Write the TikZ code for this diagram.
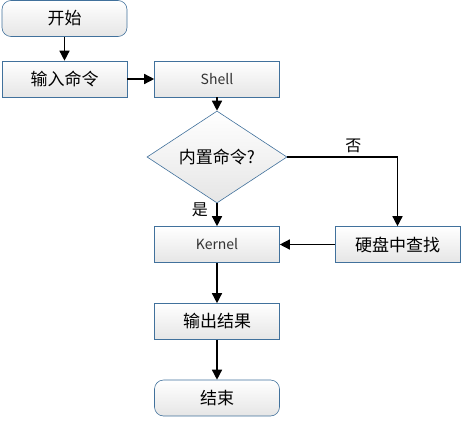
\documentclass[tikz,border=0pt]{standalone}
\usepackage{fontspec}
\setmainfont{Noto Sans CJK SC}
\usetikzlibrary{shapes.geometric, arrows.meta}
\definecolor{boxline}{HTML}{41719C}
\begin{document}
\begin{tikzpicture}[x=1pt, y=-1pt, thick,
    box/.style = {rectangle, draw = boxline, semithick, top color = white, bottom color = black!10,
                  minimum width = 125pt, minimum height = 36pt, inner sep = 0pt, font = \fontsize{17}{17}\selectfont},
    term/.style = {box, rounded corners = 9pt},
    cond/.style = {diamond, draw = boxline, semithick, top color = white, bottom color = black!10,
                   minimum width = 140pt, minimum height = 49pt, inner sep = 0pt, font = \fontsize{17}{17}\selectfont},
    latin/.style = {font = \fontsize{14}{14}\selectfont, text = black!80},
    answer/.style = {font = \fontsize{16}{16}\selectfont},
    flow/.style = {-{Triangle[length=10pt, width=10pt]}, line width = 1.4pt, black}]
    \useasboundingbox (0,0) rectangle (465,420);
    \node [term] (start) at (64.5,18.5) {开始};
    \node [box] (input) at (64.5,79) {输入命令};
    \node [box, latin] (shell) at (217,79) {Shell};
    \node [cond] (builtin) at (217,157) {内置命令?};
    \node [box, latin] (kernel) at (217,244.5) {Kernel};
    \node [box] (search) at (397.5,244.5) {硬盘中查找};
    \node [box] (output) at (217,321.5) {输出结果};
    \node [term] (stop) at (217,398) {结束};
    \draw [flow] (start) -- (input);
    \draw [flow] (input) -- (shell);
    \draw [flow] (shell) -- (builtin);
    \draw [flow] (builtin) -- node [left = 5pt, pos = 0.3, answer] {是} (kernel);
    \draw [flow] (builtin.east) -| node [above, pos = 0.3, answer] {否} (search.north);
    \draw [flow] (search) -- (kernel);
    \draw [flow] (kernel) -- (output);
    \draw [flow] (output) -- (stop);
\end{tikzpicture}
\end{document}
